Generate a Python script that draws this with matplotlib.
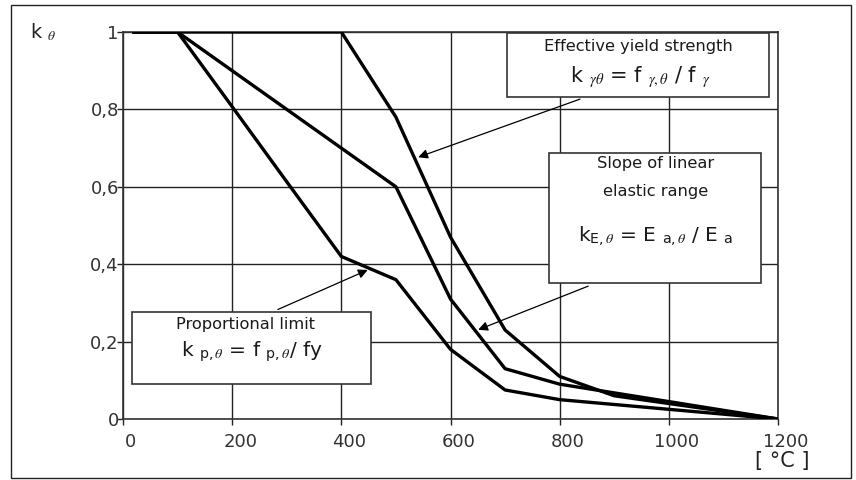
import matplotlib
matplotlib.use("Agg")
import matplotlib.pyplot as plt
from matplotlib.patches import Rectangle
from matplotlib.transforms import ScaledTranslation

plt.rcParams["font.family"] = ["DejaVu Sans"]
plt.rcParams["mathtext.fontset"] = "stix"

# Reduction factors for carbon steel at elevated temperature
temperature = [20, 100, 200, 300, 400, 500, 600, 700, 800, 900, 1000, 1100, 1200]
k_yield = [1.0, 1.0, 1.0, 1.0, 1.0, 0.78, 0.47, 0.23, 0.11, 0.06, 0.04, 0.02, 0.0]
k_prop = [1.0, 1.0, 0.807, 0.613, 0.42, 0.36, 0.18, 0.075, 0.05, 0.0375, 0.025, 0.0125, 0.0]
k_elastic = [1.0, 1.0, 0.9, 0.8, 0.7, 0.6, 0.31, 0.13, 0.09, 0.0675, 0.045, 0.0225, 0.0]

x_ticks = [0, 200, 400, 600, 800, 1000, 1200]
y_ticks = [0, 0.2, 0.4, 0.6, 0.8, 1.0]
y_tick_labels = ["0", "0,2", "0,4", "0,6", "0,8", "1"]

W, H = 856, 480
fig = plt.figure(figsize=(W / 100, H / 100), dpi=100)
fig.patch.set_facecolor("white")

# outer frame
fig.patches.append(Rectangle((11 / W, 2 / H), 840 / W, 473 / H, transform=fig.transFigure,
                             fill=False, edgecolor="#222222", linewidth=1.0))

ax = fig.add_axes([123 / W, 61 / H, 655 / W, 387 / H])
ax.set_xlim(0, 1200)
ax.set_ylim(0, 1)

ax.set_xticks(x_ticks)
ax.set_xticklabels([str(v) for v in x_ticks])
ax.set_yticks(y_ticks)
ax.set_yticklabels(y_tick_labels)
ax.grid(True, color="#222222", linewidth=1.0)
ax.set_axisbelow(True)
for s in ax.spines.values():
    s.set_color("#333333")
    s.set_linewidth(1.2)
ax.tick_params(axis="both", direction="out", length=4, width=1.0, colors="#222222",
               labelsize=13, labelcolor="#333333")
ax.tick_params(axis="y", pad=-1)
ax.tick_params(axis="x", pad=6)
shift = ScaledTranslation(8 / 100, 0, fig.dpi_scale_trans)
for lbl in ax.get_xticklabels():
    lbl.set_transform(lbl.get_transform() + shift)

for series in (k_yield, k_elastic, k_prop):
    ax.plot(temperature, series, color="black", linewidth=2.4, solid_joinstyle="round", zorder=3)

box_kw = dict(fill=True, facecolor="white", edgecolor="#333333", linewidth=1.2,
              transform=ax.transAxes, zorder=4)
text_kw = dict(transform=ax.transAxes, ha="center", va="center", color="#1a1a1a", zorder=5)

# Effective yield strength
ax.add_patch(Rectangle((0.587, 0.832), 0.399, 0.165, **box_kw))
ax.text(0.787, 0.962, "Effective yield strength", fontsize=11.7, **text_kw)
ax.text(0.790, 0.883, r"$\mathregular{k}$ $_{\gamma\theta}$ = $\mathregular{f}$ $_{\gamma,\theta}$ / $\mathregular{f}$ $_\gamma$",
        fontsize=15, **text_kw)
ax.annotate("", xy=(536, 0.674), xytext=(842, 0.829),
            arrowprops=dict(arrowstyle="-|>", color="black", lw=0.9, mutation_scale=14), zorder=6)

# Slope of linear elastic range
ax.add_patch(Rectangle((0.650, 0.351), 0.324, 0.336, **box_kw))
ax.text(0.813, 0.660, "Slope of linear", fontsize=11.7, **text_kw)
ax.text(0.813, 0.588, "elastic range", fontsize=11.7, **text_kw)
ax.text(0.813, 0.470, r"$\mathregular{k}_{\mathregular{E,}\theta}$ = $\mathregular{E}$ $_{\mathregular{a,}\theta}$ / $\mathregular{E}$ $_{\mathregular{a}}$",
        fontsize=14.5, **text_kw)
ax.annotate("", xy=(646, 0.228), xytext=(857, 0.346),
            arrowprops=dict(arrowstyle="-|>", color="black", lw=0.9, mutation_scale=14), zorder=6)

# Proportional limit
ax.add_patch(Rectangle((0.014, 0.090), 0.364, 0.186, **box_kw))
ax.text(0.187, 0.243, "Proportional limit", fontsize=11.7, **text_kw)
ax.text(0.197, 0.173, r"$\mathregular{k}$ $_{\mathregular{p,}\theta}$ = $\mathregular{f}$ $_{\mathregular{p,}\theta}$/ $\mathregular{fy}$",
        fontsize=14.5, **text_kw)
ax.annotate("", xy=(453, 0.388), xytext=(279, 0.28),
            arrowprops=dict(arrowstyle="-|>", color="black", lw=0.9, mutation_scale=14), zorder=6)

# axis labels
fig.text(30 / W, 1 - 32 / H, r"k $_\theta$", fontsize=14, color="#222222", ha="left", va="center")
fig.text(782 / W, 1 - 461 / H, "[ °C ]", fontsize=15, color="#222222", ha="center", va="center")

fig.savefig("out.png", dpi=100, facecolor="white")
